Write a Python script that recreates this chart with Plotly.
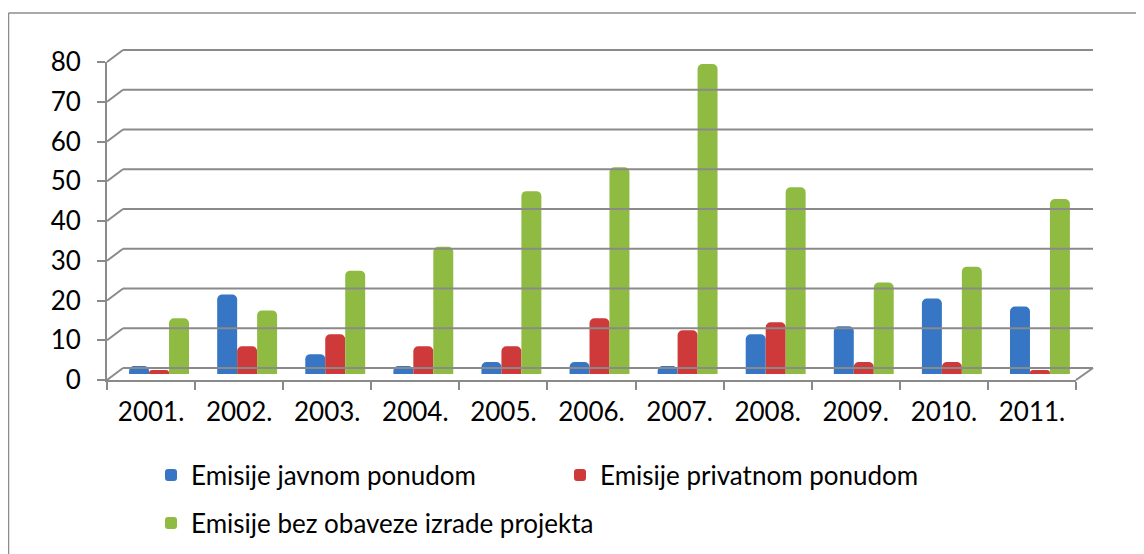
import plotly.graph_objects as go

# ---------------- data ----------------
years = ["2001.", "2002.", "2003.", "2004.", "2005.", "2006.",
         "2007.", "2008.", "2009.", "2010.", "2011."]
javnom = [2, 20, 5, 2, 3, 3, 2, 10, 12, 19, 17]
privatnom = [1, 7, 10, 7, 7, 14, 11, 13, 3, 3, 1]
bez_obaveze = [14, 16, 26, 32, 46, 52, 78, 47, 23, 27, 44]
series_names = ["Emisije javnom ponudom", "Emisije privatnom ponudom",
                "Emisije bez obaveze izrade projekta"]
y_ticks = [0, 10, 20, 30, 40, 50, 60, 70, 80]

# ---------------- geometry (screen pixels; page body has an 8px margin) ----------------
OFF = 8
W, H = 1144, 554
L, R, T, B = 107, 1094, 40, 380          # plot area on screen
FRONT_W = 969                              # width of the front floor
DX, DY = 16, 12                            # 3-D depth offset
PXU = (B - 62) / 80.0                      # pixels per unit on value axis

def px(xs):
    return (xs - L) / (R - L)

def py(ys):
    return (B - ys) / (B - T)

FONT = "Lato, 'Open Sans', sans-serif"
GRID = "#8a8a8a"

fig = go.Figure()

colors = ["#3776c4", "#cd3a39", "#90bb42"]
legends = ["legend", "legend", "legend2"]
for name, vals, c, lg in zip(series_names, [javnom, privatnom, bez_obaveze], colors, legends):
    fig.add_trace(go.Bar(
        x=years, y=vals, name=name, marker=dict(color=c, line=dict(width=0)),
        xaxis="x2", yaxis="y2", legend=lg,
    ))

# invisible trace to carry the front category axis
fig.add_trace(go.Scatter(x=years, y=[0] * len(years), mode="markers",
                         marker=dict(opacity=0), showlegend=False,
                         hoverinfo="skip", xaxis="x", yaxis="y"))

shapes = []
for v in y_ticks:
    yf = B - v * PXU
    yb = yf - DY
    shapes.append(dict(type="line", xref="paper", yref="paper",
                       x0=px(L + DX), x1=px(L + FRONT_W + DX + 1), y0=py(yb), y1=py(yb),
                       line=dict(color=GRID, width=2)))
    shapes.append(dict(type="line", xref="paper", yref="paper",
                       x0=px(L), x1=px(L + DX), y0=py(yf), y1=py(yb),
                       line=dict(color=GRID, width=2)))
shapes.append(dict(type="line", xref="paper", yref="paper",
                   x0=px(L + FRONT_W), x1=px(L + FRONT_W + DX + 1), y0=py(B), y1=py(B - DY),
                   line=dict(color=GRID, width=2)))
# outer chart frame (top and left)
shapes.append(dict(type="line", xref="paper", yref="paper",
                   x0=px(8.5), x1=px(W + 20), y0=py(13), y1=py(13),
                   line=dict(color="#8c8c8c", width=1.5)))
shapes.append(dict(type="line", xref="paper", yref="paper",
                   x0=px(8.5), x1=px(8.5), y0=py(13), y1=py(H + 20),
                   line=dict(color="#8c8c8c", width=1.5)))

top_val_bars = (B - DY / 2 - T) / PXU

fig.update_layout(
    width=W, height=H,
    margin=dict(l=L - OFF, r=W - (R - OFF), t=T - OFF, b=H - (B - OFF), pad=0),
    paper_bgcolor="white", plot_bgcolor="rgba(0,0,0,0)",
    font=dict(family=FONT, size=26, color="#000000"),
    barmode="group", bargap=0.32, bargroupgap=0.0,
    barcornerradius=5,
    shapes=shapes,
    xaxis=dict(domain=[0, FRONT_W / (R - L)], type="category", range=[-0.5, 10.5],
               showgrid=False, showline=True, linecolor=GRID, linewidth=2,
               ticks="outside", ticklen=8, tickcolor=GRID, tickwidth=2,
               tickson="boundaries", ticklabelstandoff=8,
               tickfont=dict(family=FONT, size=26), anchor="y", zeroline=False),
    yaxis=dict(domain=[0, (B - 62) / (B - T)], range=[0, 80], tickvals=y_ticks,
               showgrid=False, showline=True, linecolor=GRID, linewidth=2,
               ticks="outside", ticklen=8, tickcolor=GRID, tickwidth=2,
               ticklabelstandoff=11, zeroline=False, anchor="x",
               tickfont=dict(family=FONT, size=26)),
    xaxis2=dict(domain=[(DX / 2) / (R - L), (FRONT_W + DX / 2) / (R - L)],
                type="category", range=[-0.5, 10.5], visible=False, anchor="y2"),
    yaxis2=dict(domain=[(DY / 2) / (B - T), 1], range=[0, top_val_bars],
                visible=False, anchor="x2"),
    legend=dict(orientation="h", x=px(151), xanchor="left", y=py(475), yanchor="middle",
                entrywidth=364, entrywidthmode="pixels", font=dict(size=26, family=FONT),
                bgcolor="rgba(0,0,0,0)", itemclick=False, itemdoubleclick=False),
    legend2=dict(orientation="h", x=px(151), xanchor="left", y=py(523), yanchor="middle",
                 font=dict(size=26, family=FONT), bgcolor="rgba(0,0,0,0)",
                 itemclick=False, itemdoubleclick=False),
    showlegend=True,
)

fig.write_html("out.html")
